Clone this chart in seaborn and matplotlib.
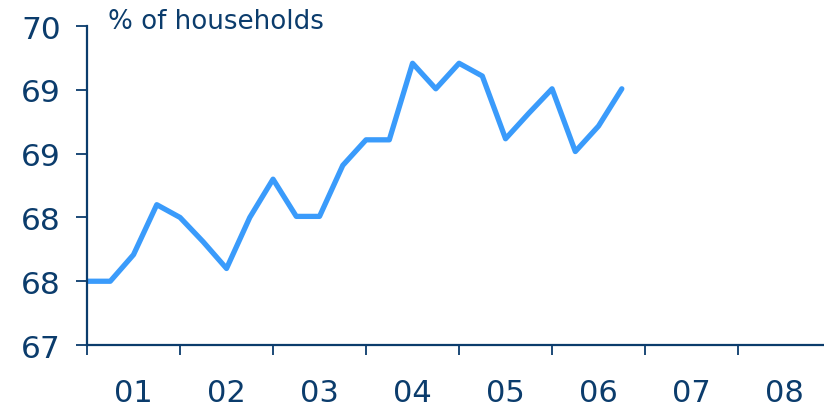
import numpy as np
import pandas as pd
import seaborn as sns
import matplotlib.pyplot as plt
from matplotlib.ticker import FixedLocator, FormatStrFormatter, NullFormatter

# quarterly readings, 2001 Q1 .. 2006 Q4
quarters = [2001 + i * 0.25 for i in range(24)]
share = [67.60, 67.60, 67.85, 68.32, 68.20, 67.97, 67.72, 68.20,
         68.56, 68.21, 68.21, 68.69, 68.93, 68.93, 69.65, 69.41,
         69.65, 69.53, 68.94, 69.18, 69.41, 68.82, 69.06, 69.41]
year_labels = ["01", "02", "03", "04", "05", "06", "07", "08"]
y_ticks = [67.0, 67.6, 68.2, 68.8, 69.4, 70.0]

df = pd.DataFrame({"quarter": quarters, "share": share})

sns.set_style("white")
plt.rcParams['font.family'] = ['DejaVu Sans']
navy = "#0b3c6c"

fig = plt.figure(figsize=(8.24, 4.10), dpi=100)
ax = fig.add_axes([0.1056, 0.156, 0.903, 0.778])

sns.lineplot(data=df, x="quarter", y="share", color="#3a9bfb", linewidth=3.8,
             solid_joinstyle="round", solid_capstyle="round", ax=ax)

ax.set_xlim(2001, 2009)
ax.set_ylim(67, 70)
ax.yaxis.set_major_locator(FixedLocator(y_ticks))
ax.yaxis.set_major_formatter(FormatStrFormatter("%.0f"))
ax.xaxis.set_major_locator(FixedLocator(range(2001, 2010)))
ax.xaxis.set_major_formatter(NullFormatter())
ax.xaxis.set_minor_locator(FixedLocator([2001.5 + i for i in range(8)]))
ax.set_xticklabels(year_labels, minor=True)

ax.tick_params(axis="y", which="major", direction="out", length=8, width=1.3,
               color=navy, labelcolor=navy, labelsize=22.5, pad=11, left=True)
ax.tick_params(axis="x", which="major", direction="out", length=7, width=1.3,
               color=navy, bottom=True)
ax.tick_params(axis="x", which="minor", length=0, labelcolor=navy,
               labelsize=22, pad=24)

for side in ["top", "right"]:
    ax.spines[side].set_visible(False)
for side in ["left", "bottom"]:
    ax.spines[side].set_color(navy)
    ax.spines[side].set_linewidth(1.6)

ax.set_xlabel("")
ax.set_ylabel("")
ax.grid(False)

fig.text(108 / 824, 1 - 9 / 410, "% of households", color=navy, fontsize=18.8,
         ha="left", va="top")

plt.savefig("out.png", dpi=100)
